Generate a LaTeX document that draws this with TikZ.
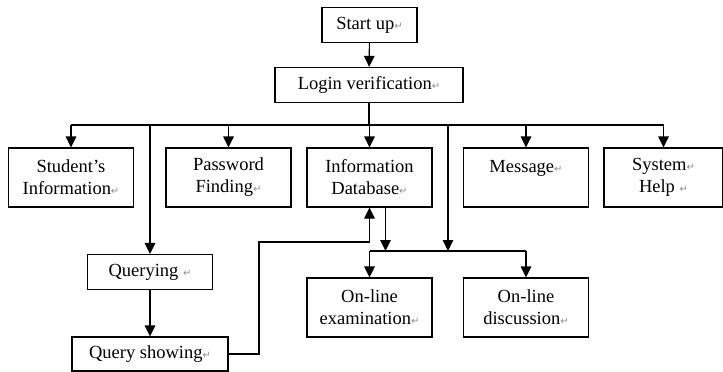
\documentclass[tikz,border=0pt]{standalone}
\usepackage{fontspec}
\setmainfont{Liberation Serif}
\newfontfamily\markfont{DejaVu Sans}
\usetikzlibrary{arrows.meta}
\newcommand{\pmark}{{\markfont\fontsize{10}{10}\selectfont\color{black!45}↵}}

\begin{document}
\begin{tikzpicture}
	[
	x=1pt, y=-1pt,
	align=center,
	font=\fontsize{18.5}{22}\selectfont,
	box/.style={draw, line width=1.1pt, inner sep=0pt, minimum width=125pt, minimum height=35pt},
	tall/.style={box, minimum height=59pt},
	link/.style={line width=1.1pt},
	arr/.style={link, -{Triangle[length=11pt,width=10.5pt]}},
	]
		\useasboundingbox (0,0) rectangle (723,372);

		% entry
		\node[box, minimum width=95pt]  (start) at 		(369.5,  25.0 ) {Start up\pmark};
		\node[box, minimum width=188pt] (login) at 		(369.0,  85.0 ) {Login verification\pmark};

		% modules
		\node[tall] (stu) at 		( 71.0, 177.5 ) {Student’s\\Information\pmark};
		\node[tall] (pwd) at 		(228.5, 177.5 ) {Password\\Finding\pmark};
		\node[tall] (infodb) at 		(369.5, 177.5 ) {Information\\Database\pmark};
		\node[tall] (msg) at 		(526.0, 177.5 ) {Message\pmark\\\phantom{M}};
		\node[tall, minimum width=119pt] (help) at 		(663.5, 177.5 ) {System\pmark\\Help \pmark};

		% query branch
		\node[box] (querying) at 		(150.0, 272.0 ) {Querying \pmark};
		\node[box, minimum width=156pt, minimum height=34pt] (qshow) at 		(150.0, 354.0 ) {Query showing\pmark};

		% on-line branch
		\node[tall] (exam) at 		(369.5, 307.5 ) {On-line\\examination\pmark};
		\node[tall] (disc) at 		(526.0, 307.5 ) {On-line\\discussion\pmark};

		% buses
		\coordinate (tbus) at 		(369.0, 125.0 );
		\coordinate (lbus) at 		(369.5, 251.0 );
		\coordinate (tap) at 		(448.0, 125.0 );
		\coordinate (qturn) at 		(259.0, 242.0 );

		\draw[arr] (start) -- (login);
		\draw[link] (login.south) -- (login.south |- tbus);
		\draw[link] (stu.north |- tbus) -- (help.north |- tbus);
		\foreach \to in {stu,pwd,infodb,msg,help} \draw[arr] (\to.north |- tbus) -- (\to.north);
		\draw[arr] (querying.north |- tbus) -- (querying);
		\draw[arr] (querying) -- (qshow);
		\draw[arr] (qshow.east) -| (qturn) -| (infodb.south);

		\draw[link] (exam.north |- lbus) -- (disc.north |- lbus);
		\draw[arr] ([xshift=16pt]infodb.south) -- ([xshift=16pt]infodb.south |- lbus);
		\draw[arr] (tap) -- (tap |- lbus);
		\foreach \to in {exam,disc} \draw[arr] (\to.north |- lbus) -- (\to.north);

	\end{tikzpicture}
\end{document}
